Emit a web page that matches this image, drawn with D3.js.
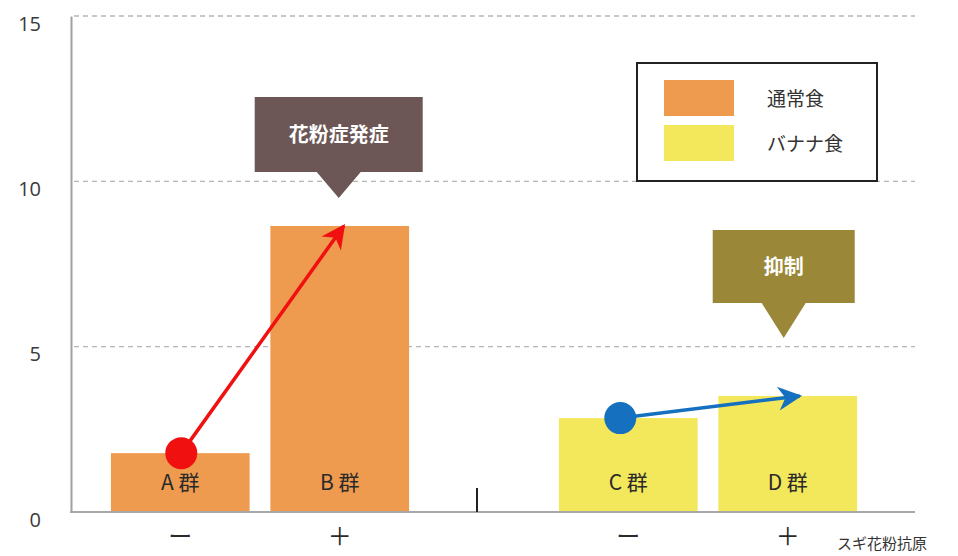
<!DOCTYPE html>
<html><head><meta charset="utf-8">
<script src="https://cdn.jsdelivr.net/npm/d3@7"></script>
<style>
body{margin:0;background:#fff;}
svg{display:block;font-family:"Noto Sans CJK JP","Noto Sans",sans-serif;}
</style></head>
<body>
<svg id="chart" width="958" height="556"></svg>
<script>
// ---- data ----
const diets = ["通常食", "バナナ食"];
const antigen = ["−", "+"];
const groups = ["A 群", "B 群", "C 群", "D 群"];
const groupDiet = ["通常食", "通常食", "バナナ食", "バナナ食"];
const groupAntigen = ["−", "+", "−", "+"];
const values = [1.78, 8.65, 2.84, 3.51];
const yTicks = [0, 5, 10, 15];
const callouts = ["花粉症発症", "抑制"];
const axisTitle = "スギ花粉抗原";
const dietColors = ["#EF9B4F", "#F3E75B"];

const svg = d3.select("#chart");
const y = d3.scaleLinear().domain([0, 15]).range([512, 16]);
const xOuter = d3.scaleBand().domain(diets).range([36, 932]).paddingInner(0).paddingOuter(0);
const xInner = d3.scaleBand().domain(antigen).range([0, xOuter.bandwidth()]).paddingInner(0.13).paddingOuter(0.47);
const color = d3.scaleOrdinal().domain(diets).range(dietColors);
const xPos = i => xOuter(groupDiet[i]) + xInner(groupAntigen[i]);
const xMid = i => xPos(i) + xInner.bandwidth() / 2;

// gridlines
svg.append("g").selectAll("line").data(yTicks.filter(d => d > 0)).join("line")
  .attr("x1", 74).attr("x2", 915)
  .attr("y1", d => y(d)).attr("y2", d => y(d))
  .attr("stroke", "#b5b5b5").attr("stroke-width", 1.3).attr("stroke-dasharray", "5,4");

// y axis via d3.axisLeft
const yAxis = svg.append("g").attr("transform", "translate(71,0)")
  .call(d3.axisLeft(y).tickValues(yTicks).tickSize(0).tickPadding(30));
yAxis.select(".domain").attr("stroke", "#a0a0a0").attr("stroke-width", 2);
yAxis.selectAll("text").attr("font-family", "'Open Sans',sans-serif").attr("font-size", 20)
  .attr("fill", "#3a3a3a").attr("dy", "0.75em").attr("transform", "translate(0,-1)");

// bars
svg.append("g").selectAll("rect").data(values).join("rect")
  .attr("x", (d, i) => xPos(i)).attr("width", xInner.bandwidth())
  .attr("y", d => y(d)).attr("height", d => y(0) - y(d))
  .attr("fill", (d, i) => color(groupDiet[i]));

// baseline
svg.append("line").attr("x1", 70).attr("x2", 915).attr("y1", y(0)).attr("y2", y(0))
  .attr("stroke", "#a8a8a8").attr("stroke-width", 2);
// separator tick between groups
svg.append("line").attr("x1", xOuter("バナナ食") - 7).attr("x2", xOuter("バナナ食") - 7)
  .attr("y1", y(0) - 24).attr("y2", y(0)).attr("stroke", "#222").attr("stroke-width", 2);

// bar labels
svg.append("g").selectAll("text").data(groups).join("text")
  .attr("x", (d, i) => xMid(i)).attr("y", 490)
  .attr("text-anchor", "middle").attr("font-size", 21).attr("fill", "#2a2a2a")
  .text(d => d);

// x labels
svg.append("g").selectAll("text").data(groupAntigen).join("text")
  .attr("x", (d, i) => xMid(i)).attr("y", 545)
  .attr("text-anchor", "middle").attr("font-size", 24).attr("fill", "#2a2a2a")
  .text(d => d === "−" ? "ー" : "＋");
svg.append("text").attr("x", 837).attr("y", 549).attr("font-size", 15).attr("fill", "#333").text(axisTitle);

// arrows
const defs = svg.append("defs");
defs.append("marker").attr("id", "mr").attr("viewBox", "0 0 10 10").attr("refX", 9).attr("refY", 5)
  .attr("markerWidth", 28).attr("markerHeight", 24).attr("markerUnits", "userSpaceOnUse").attr("orient", "auto")
  .append("path").attr("d", "M0,0 L10,5 L0,10 L3,5 Z").attr("fill", "#F01010");
defs.append("marker").attr("id", "mb").attr("viewBox", "0 0 10 10").attr("refX", 9).attr("refY", 5)
  .attr("markerWidth", 30).attr("markerHeight", 24).attr("markerUnits", "userSpaceOnUse").attr("orient", "auto")
  .append("path").attr("d", "M0,0 L10,5 L0,10 L3,5 Z").attr("fill", "#1570C0");

function arrow(i0, i1, col, mid, dx0, dx1) {
  svg.append("line").attr("x1", xMid(i0) + dx0).attr("y1", y(values[i0]))
    .attr("x2", xMid(i1) + dx1).attr("y2", y(values[i1]))
    .attr("stroke", col).attr("stroke-width", 3.5).attr("marker-end", "url(#" + mid + ")");
  svg.append("circle").attr("cx", xMid(i0) + dx0).attr("cy", y(values[i0])).attr("r", 16).attr("fill", col);
}
arrow(0, 1, "#F01010", "mr", 1, 4);
arrow(2, 3, "#1570C0", "mb", -8, 12);

// callouts
function callout(i, text, col, w, h, top, tipY, fs, dx) {
  const cx = xMid(i) + dx;
  const x0 = cx - w / 2, x1 = cx + w / 2, b = top + h;
  svg.append("path").attr("d",
    `M${x0},${top} H${x1} V${b} H${cx + 22} L${cx},${tipY} L${cx - 22},${b} H${x0} Z`)
    .attr("fill", col);
  svg.append("text").attr("x", cx).attr("y", top + h / 2 + 7).attr("text-anchor", "middle")
    .attr("font-size", fs).attr("font-weight", "bold").attr("fill", "#fff").text(text);
}
callout(1, callouts[0], "#6C5656", 168, 75, 97, 198, 20, -1);
callout(3, callouts[1], "#9A8838", 142, 73, 230, 338, 20, -4);

// legend
const lg = svg.append("g");
lg.append("rect").attr("x", 637).attr("y", 63).attr("width", 240).attr("height", 118)
  .attr("fill", "#fff").attr("stroke", "#222").attr("stroke-width", 2);
lg.selectAll(".sw").data(diets).join("rect").attr("class", "sw")
  .attr("x", 664).attr("y", (d, i) => 80 + i * 45).attr("width", 70).attr("height", 36)
  .attr("fill", d => color(d));
lg.selectAll(".lt").data(diets).join("text").attr("class", "lt")
  .attr("x", 767).attr("y", (d, i) => 106 + i * 45).attr("font-size", 19).attr("fill", "#333")
  .text(d => d);
</script>
</body></html>
